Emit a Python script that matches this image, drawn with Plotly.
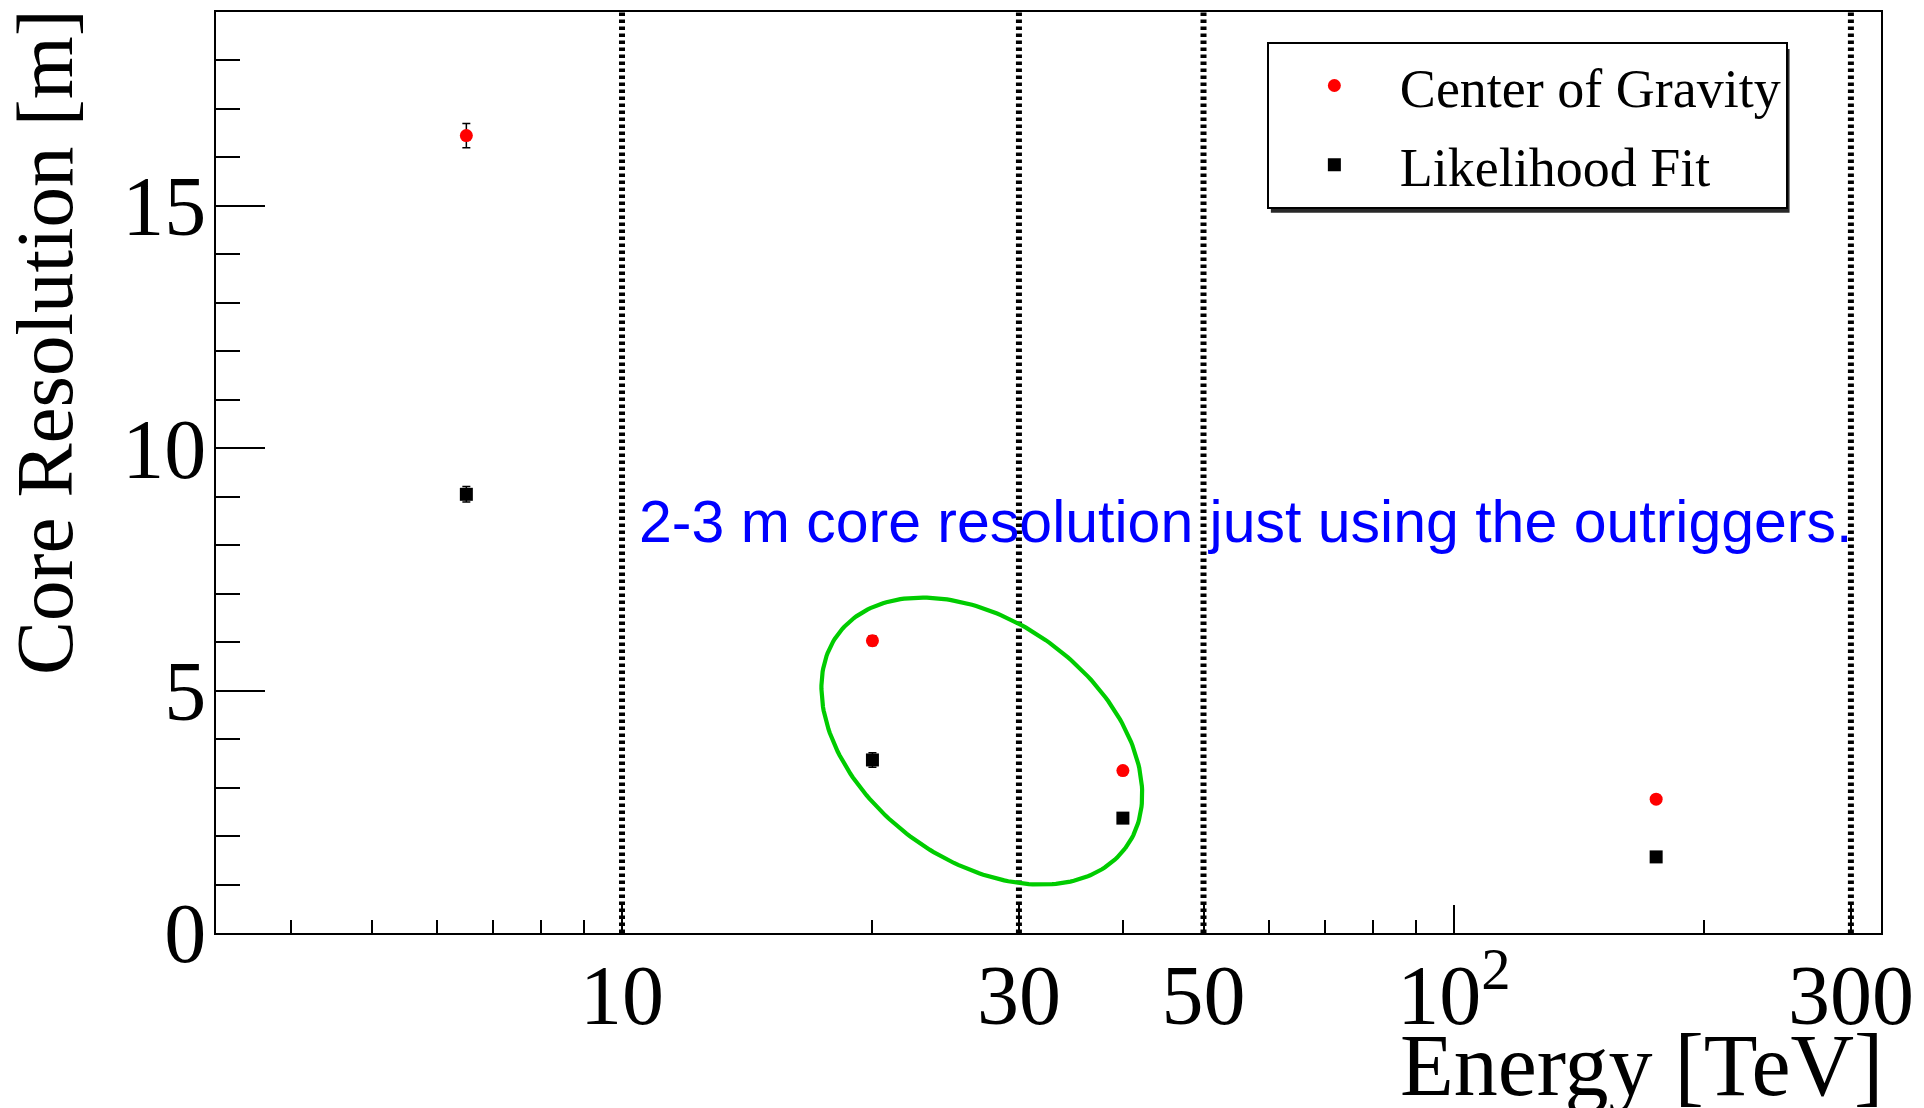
import numpy as np
import plotly.graph_objects as go

# ---------------- data ----------------
energy = [6.5, 20, 40, 175]                 # TeV
cog_res = [16.45, 6.03, 3.35, 2.76]         # Center of Gravity core resolution [m]
cog_err = [0.25, 0.10, 0.08, 0.08]
lf_res = [9.05, 3.57, 2.37, 1.57]           # Likelihood Fit core resolution [m]
lf_err = [0.16, 0.15, 0.08, 0.08]
bin_edges = [10, 30, 50, 300]               # dotted vertical lines
x_tickvals = [10, 30, 50, 100, 300]
x_ticktext = ["10", "30", "50", "10<sup>2</sup>", "300"]
x_minor_ticks = [4, 5, 6, 7, 8, 9, 20, 40, 60, 70, 80, 90, 200]
y_tickvals = [0, 5, 10, 15]
y_ticktext = ["0", "5", "10", "15"]

# ---------------- geometry ----------------
W, H = 1924, 1108
ML, MR, MT, MB = 216, 42, 10, 174.5
X_RANGE = [0.512, 2.5133]   # log10
Y_RANGE = [0, 19]
px_per_dec = (W - ML - MR) / (X_RANGE[1] - X_RANGE[0])
px_per_unit = (H - MT - MB) / (Y_RANGE[1] - Y_RANGE[0])
PW, PH = W - ML - MR, H - MT - MB


def px_to_paper_x(px):
    return (px - ML) / PW


def px_to_paper_y(py):
    return (H - MB - py) / PH


SERIF = "Liberation Serif, Times New Roman, serif"

fig = go.Figure()

# dotted boundary lines
for e in bin_edges:
    fig.add_trace(go.Scatter(
        x=[e, e], y=Y_RANGE, mode="lines",
        line=dict(color="black", width=6, dash="3.5px,3.5px"),
        showlegend=False, hoverinfo="skip"))

# green ellipse highlighting the outrigger points (center in data units, axes in px)
ell_cx, ell_cy = 27.07, 3.96
ell_a, ell_b, ell_theta = 179.4, 119.5, np.deg2rad(36.8)
t = np.linspace(0, 2 * np.pi, 241)
dx = ell_a * np.cos(t) * np.cos(ell_theta) - ell_b * np.sin(t) * np.sin(ell_theta)
dy = ell_a * np.cos(t) * np.sin(ell_theta) + ell_b * np.sin(t) * np.cos(ell_theta)
fig.add_trace(go.Scatter(
    x=10 ** (np.log10(ell_cx) + dx / px_per_dec), y=ell_cy - dy / px_per_unit,
    mode="lines", line=dict(color="rgb(0,204,0)", width=4.2),
    showlegend=False, hoverinfo="skip"))

fig.add_trace(go.Scatter(
    x=energy, y=cog_res, mode="markers", name="Center of Gravity",
    marker=dict(symbol="circle", size=13, color="red"),
    error_y=dict(type="data", array=cog_err, color="black", thickness=1.5, width=4),
    legendgroup="a"))
fig.add_trace(go.Scatter(
    x=energy, y=lf_res, mode="markers", name="Likelihood Fit",
    marker=dict(symbol="square", size=13, color="black"),
    error_y=dict(type="data", array=lf_err, color="black", thickness=1.5, width=4),
    legendgroup="b"))

# legend drop shadow (legend box drawn on top of it)
fig.add_shape(type="rect", xref="paper", yref="paper", layer="above",
              x0=px_to_paper_x(1271.5), x1=px_to_paper_x(1790.5),
              y0=px_to_paper_y(211.4), y1=px_to_paper_y(47),
              line=dict(width=0), fillcolor="rgb(40,40,40)")

fig.update_layout(
    width=W, height=H,
    margin=dict(l=ML, r=MR, t=MT, b=MB, pad=0),
    paper_bgcolor="white", plot_bgcolor="white",
    showlegend=True,
    legend=dict(
        x=px_to_paper_x(1267.5), y=px_to_paper_y(40),
        xanchor="left", yanchor="top",
        bgcolor="white", bordercolor="black", borderwidth=2,
        font=dict(family=SERIF, size=54, color="black"),
        itemwidth=121, tracegroupgap=6, traceorder="grouped"),
    xaxis=dict(
        type="log", range=X_RANGE, showgrid=False, zeroline=False,
        showline=True, linecolor="black", linewidth=2, mirror=True,
        tickmode="array", tickvals=x_tickvals, ticktext=x_ticktext,
        ticks="inside", ticklen=28, tickwidth=1.5, tickcolor="black",
        ticklabelstandoff=-12,
        tickfont=dict(family=SERIF, size=84, color="black"),
        minor=dict(tickmode="array", tickvals=x_minor_ticks, ticks="inside",
                   ticklen=13, tickwidth=1.5, tickcolor="black", showgrid=False)),
    yaxis=dict(
        range=Y_RANGE, showgrid=False, zeroline=False,
        showline=True, linecolor="black", linewidth=2, mirror=True,
        tickmode="array", tickvals=y_tickvals, ticktext=y_ticktext,
        ticks="inside", ticklen=49, tickwidth=1.5, tickcolor="black",
        ticklabelstandoff=-9,
        tickfont=dict(family=SERIF, size=84, color="black"),
        minor=dict(dtick=1, tick0=0, ticks="inside", ticklen=24,
                   tickwidth=1.5, tickcolor="black", showgrid=False)),
    annotations=[
        dict(text="2-3 m core resolution just using the outriggers.",
             xref="x", yref="y", x=1.018, y=8.48, xanchor="left", yanchor="middle",
             showarrow=False,
             font=dict(family="Liberation Sans, Arial, sans-serif", size=59, color="blue")),
        dict(text="Core Resolution [m]", xref="paper", yref="paper",
             x=px_to_paper_x(45), y=px_to_paper_y(5), xanchor="center", yanchor="top",
             textangle=-90, showarrow=False,
             font=dict(family=SERIF, size=81, color="black")),
        dict(text="Energy [TeV]", xref="paper", yref="paper",
             x=px_to_paper_x(1886), y=px_to_paper_y(1066), xanchor="right", yanchor="middle",
             showarrow=False,
             font=dict(family=SERIF, size=88, color="black")),
    ],
)

fig.write_html("out.html", config={"displayModeBar": False},
               post_script="document.body.style.margin='0px';")
